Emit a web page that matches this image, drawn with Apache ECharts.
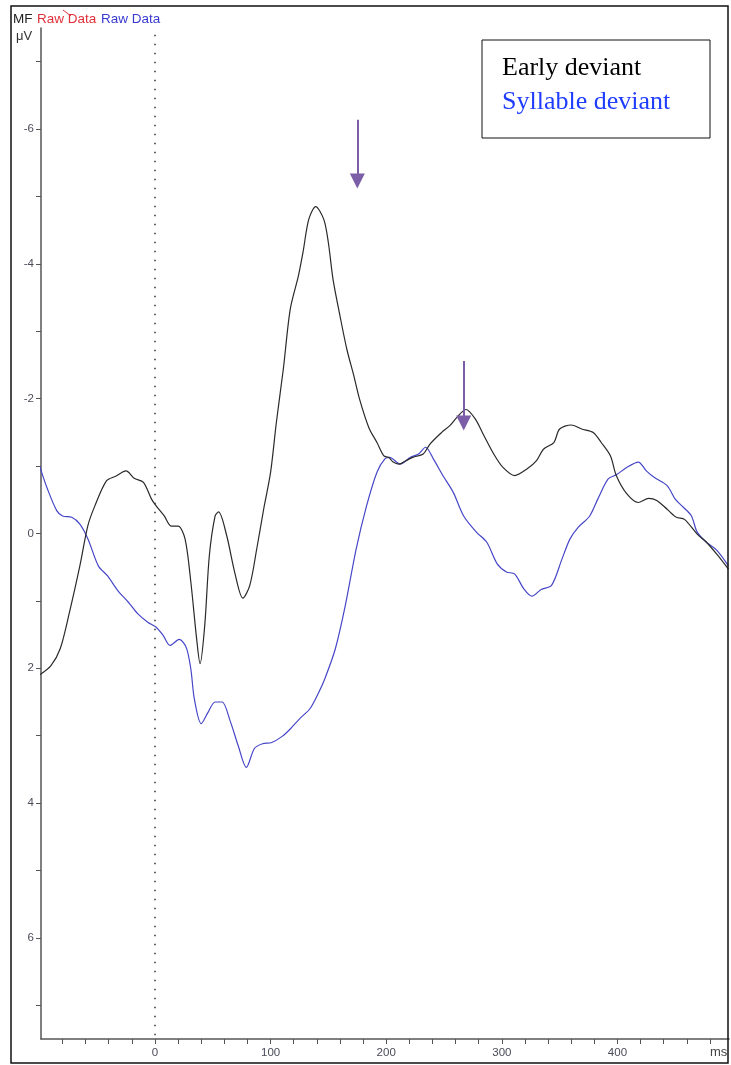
<!DOCTYPE html>
<html>
<head>
<meta charset="utf-8">
<style>
  html, body { margin: 0; padding: 0; background: #ffffff; }
  #chart { width: 731px; height: 1065px; }
</style>
<script src="https://cdn.jsdelivr.net/npm/echarts@6/dist/echarts.min.js"></script>
</head>
<body>
<div id="chart"></div>
<script>
// ---- data (time in ms, amplitude in µV; negative plotted upward) ----
const earlyDeviant = [
  [-100, 2.10], [-90, 1.96], [-82, 1.71], [-74, 1.17], [-65, 0.48], [-58, -0.12],
  [-52, -0.41], [-42, -0.78], [-34, -0.85], [-25, -0.93], [-18, -0.82], [-10, -0.76],
  [-3, -0.51], [1, -0.41], [8, -0.26], [14, -0.11], [20, -0.11], [26, 0.08],
  [31, 0.72], [36, 1.56], [39, 1.93], [43, 1.37], [47, 0.33], [52, -0.26],
  [55, -0.32], [62, 0.03], [69, 0.58], [76, 0.96], [82, 0.77], [88, 0.23],
  [94, -0.36], [100, -0.91], [105, -1.65], [111, -2.44], [117, -3.33], [124, -3.82],
  [128, -4.17], [133, -4.66], [139, -4.85], [146, -4.66], [150, -4.31], [154, -3.77],
  [160, -3.23], [166, -2.73], [172, -2.34], [177, -1.99], [185, -1.57], [192, -1.35],
  [198, -1.15], [202, -1.13], [206, -1.06], [211, -1.03], [217, -1.08], [223, -1.13],
  [232, -1.18], [238, -1.33], [248, -1.50], [255, -1.60], [261, -1.72], [269, -1.84],
  [277, -1.70], [284, -1.47], [293, -1.18], [301, -0.98], [311, -0.86], [322, -0.96],
  [330, -1.08], [336, -1.25], [345, -1.35], [350, -1.55], [360, -1.61], [369, -1.55],
  [379, -1.50], [386, -1.35], [394, -1.15], [399, -0.86], [408, -0.59], [418, -0.46],
  [427, -0.52], [434, -0.49], [443, -0.36], [451, -0.24], [458, -0.21], [469, 0.01],
  [477, 0.13], [487, 0.33], [496, 0.53]
];
const syllableDeviant = [
  [-100, -1.01], [-93, -0.66], [-85, -0.34], [-80, -0.26], [-72, -0.24], [-65, -0.14],
  [-58, 0.08], [-49, 0.48], [-41, 0.63], [-32, 0.85], [-23, 1.02], [-15, 1.19],
  [-6, 1.32], [1, 1.39], [7, 1.51], [13, 1.66], [21, 1.57], [27, 1.69],
  [31, 2.01], [34, 2.45], [40, 2.82], [46, 2.65], [52, 2.50], [58, 2.50],
  [65, 2.78], [72, 3.15], [79, 3.47], [86, 3.19], [93, 3.12], [101, 3.10],
  [110, 3.01], [117, 2.90], [125, 2.75], [134, 2.60], [141, 2.38], [147, 2.15],
  [156, 1.71], [164, 1.12], [174, 0.23], [183, -0.41], [192, -0.91], [199, -1.11],
  [203, -1.13], [212, -1.03], [221, -1.13], [228, -1.18], [234, -1.28], [241, -1.10],
  [249, -0.86], [258, -0.61], [267, -0.26], [278, -0.02], [287, 0.13], [296, 0.45],
  [304, 0.57], [311, 0.60], [319, 0.82], [326, 0.93], [334, 0.83], [343, 0.77],
  [352, 0.38], [359, 0.08], [366, -0.09], [376, -0.26], [383, -0.51], [392, -0.81],
  [399, -0.87], [408, -0.98], [418, -1.06], [425, -0.93], [432, -0.83], [443, -0.71],
  [450, -0.51], [457, -0.39], [464, -0.26], [469, -0.02], [477, 0.13], [486, 0.25],
  [496, 0.48]
];
// arrows: [time, start amplitude, tip amplitude]
const arrows = [
  [175, -6.14, -5.12],
  [267, -2.56, -1.53]
];
const xTickLabels = [0, 100, 200, 300, 400];
const xMinorTicks = [-80, -60, -40, -20, 0, 20, 40, 60, 80, 100, 120, 140, 160, 180, 200, 220, 240, 260, 280, 300, 320, 340, 360, 380, 400, 420, 440, 460, 480];
const yTickLabels = [-6, -4, -2, 0, 2, 4, 6];
const yMinorTicks = [-7, -6, -5, -4, -3, -2, -1, 0, 1, 2, 3, 4, 5, 6, 7];
const legendNames = ['Early deviant', 'Syllable deviant'];

const chart = echarts.init(document.getElementById('chart'), null, { renderer: 'canvas' });

const axisColor = '#555555';
const labelColor = '#4b4b5a';
const arrowColor = '#7b5ea7';
const headLen = 15; // px
const unitPx = 67.4;

const arrowLines = arrows.map(a => [
  { coord: [a[0], a[1]] },
  { coord: [a[0], a[2] - (headLen / 2) / unitPx] }
]);

const option = {
  backgroundColor: '#ffffff',
  animation: false,
  grid: { left: 41, top: 28, width: 688, height: 1011, containLabel: false },
  xAxis: {
    type: 'value', min: -98.6, max: 496.5,
    axisLine: { show: true, onZero: false, lineStyle: { color: axisColor, width: 1.5 } },
    axisTick: { show: true, length: 5, customValues: xMinorTicks, lineStyle: { color: axisColor } },
    axisLabel: { customValues: xTickLabels, color: labelColor, fontSize: 11.5, fontFamily: 'Liberation Sans, Arial', margin: 8 },
    splitLine: { show: false }
  },
  yAxis: {
    type: 'value', min: -7.5, max: 7.5, inverse: true,
    axisLine: { show: true, onZero: false, lineStyle: { color: axisColor, width: 1.5 } },
    axisTick: { show: true, length: 5, customValues: yMinorTicks, lineStyle: { color: axisColor } },
    axisLabel: { customValues: yTickLabels, color: labelColor, fontSize: 11.5, fontFamily: 'Liberation Sans, Arial', margin: 7 },
    splitLine: { show: false }
  },
  series: [
    {
      name: legendNames[0], type: 'line', data: earlyDeviant, showSymbol: false, smooth: 0.3,
      lineStyle: { color: '#2a2a2a', width: 1.2 }, z: 3,
      markLine: {
        silent: true, symbol: 'none', label: { show: false },
        lineStyle: { color: '#333333', type: [1.5, 7.5], width: 1.5 },
        data: [[{ coord: [0, -7.4] }, { coord: [0, 7.5] }]]
      }
    },
    {
      name: legendNames[1], type: 'line', data: syllableDeviant, showSymbol: false, smooth: 0.3,
      lineStyle: { color: '#4646c8', width: 1.2 }, z: 2
    },
    {
      name: 'arrows', type: 'line', data: [], z: 5,
      markLine: {
        silent: true, symbol: ['none', 'triangle'], symbolSize: [15, headLen],
        label: { show: false },
        lineStyle: { color: arrowColor, type: 'solid', width: 2 },
        itemStyle: { color: arrowColor },
        data: arrowLines
      }
    }
  ],
  graphic: [
    { type: 'rect', shape: { x: 11, y: 6, width: 717, height: 1057 }, style: { fill: 'none', stroke: '#111', lineWidth: 1.5 }, z: 10 },
    { type: 'text', x: 13, y: 12, style: { text: 'MF', fill: '#222', font: '13.5px "Liberation Sans", Arial' }, z: 10 },
    { type: 'text', x: 37, y: 12, style: { text: 'Raw Data', fill: '#e0303a', font: '13.5px "Liberation Sans", Arial' }, z: 10 },
    { type: 'text', x: 101, y: 12, style: { text: 'Raw Data', fill: '#3a3ad0', font: '13.5px "Liberation Sans", Arial' }, z: 10 },
    { type: 'line', shape: { x1: 63, y1: 10, x2: 71, y2: 16 }, style: { stroke: '#e0303a', lineWidth: 1 }, z: 10 },
    { type: 'text', x: 16, y: 30, style: { text: 'μV', fill: '#333', font: '13px "Liberation Sans", Arial' }, z: 10 },
    { type: 'text', x: 710, y: 1046, style: { text: 'ms', fill: '#444', font: '13px "Liberation Sans", Arial' }, z: 10 },
    { type: 'rect', shape: { x: 482, y: 40, width: 228, height: 98 }, style: { fill: '#ffffff', stroke: '#111', lineWidth: 1 }, z: 10 },
    { type: 'text', x: 502, y: 55, style: { text: legendNames[0], fill: '#000000', font: '26px "Liberation Serif", "Times New Roman", serif' }, z: 11 },
    { type: 'text', x: 502, y: 89, style: { text: legendNames[1], fill: '#1f3dff', font: '26px "Liberation Serif", "Times New Roman", serif' }, z: 11 }
  ]
};
chart.setOption(option);
</script>
</body>
</html>
